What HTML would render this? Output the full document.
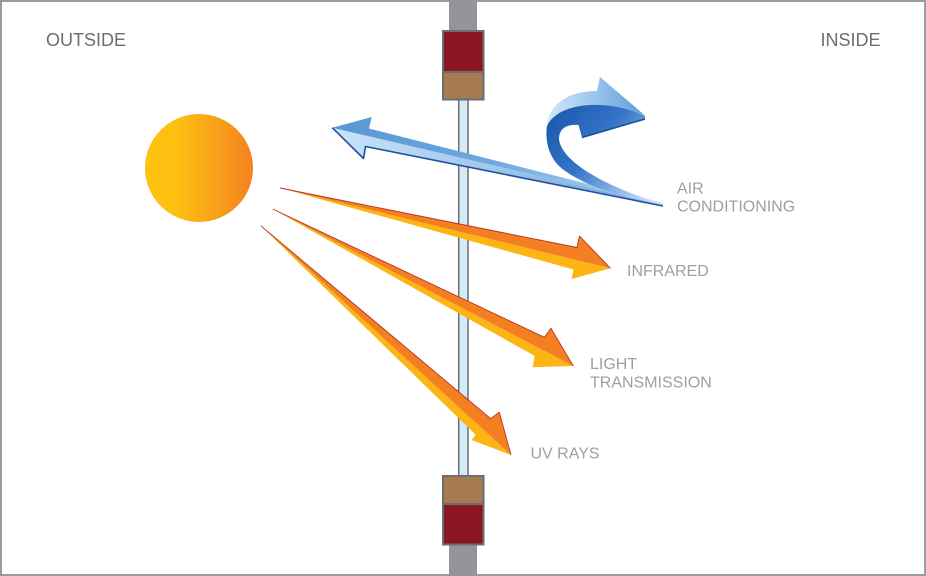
<!DOCTYPE html>
<html>
<head>
<meta charset="utf-8">
<style>
  html,body{margin:0;padding:0;background:#fff;}
  svg{display:block;}
  text{font-family:"Liberation Sans",Arial,sans-serif;}
</style>
</head>
<body>
<svg width="926" height="576" viewBox="0 0 926 576" xmlns="http://www.w3.org/2000/svg">
  <defs>
    <linearGradient id="sun" x1="0" y1="0" x2="1" y2="0">
      <stop offset="0" stop-color="#fec20f"/>
      <stop offset="0.3" stop-color="#fdbf12"/>
      <stop offset="1" stop-color="#f58220"/>
    </linearGradient>
    <linearGradient id="bUp" x1="332" y1="0" x2="663" y2="0" gradientUnits="userSpaceOnUse">
      <stop offset="0" stop-color="#5898d4"/>
      <stop offset="0.5" stop-color="#6fa9de"/>
      <stop offset="1" stop-color="#b9d9f3"/>
    </linearGradient>
    <linearGradient id="bLo" x1="332" y1="0" x2="663" y2="0" gradientUnits="userSpaceOnUse">
      <stop offset="0" stop-color="#c8e4f9"/>
      <stop offset="0.5" stop-color="#9fc6ec"/>
      <stop offset="1" stop-color="#6b9fdc"/>
    </linearGradient>
    <linearGradient id="cTop" x1="548" y1="100" x2="645" y2="100" gradientUnits="userSpaceOnUse">
      <stop offset="0" stop-color="#cfe6f9"/>
      <stop offset="0.5" stop-color="#98c4ec"/>
      <stop offset="1" stop-color="#5b9bd6"/>
    </linearGradient>
    <linearGradient id="cFront" x1="548" y1="110" x2="663" y2="204" gradientUnits="userSpaceOnUse">
      <stop offset="0" stop-color="#1a57ab"/>
      <stop offset="0.4" stop-color="#3574c6"/>
      <stop offset="0.7" stop-color="#8db6e6"/>
      <stop offset="1" stop-color="#e0effb"/>
    </linearGradient>
  </defs>

  <!-- frame -->
  <rect x="1" y="1" width="924" height="574" fill="#fff" stroke="#9b9b9b" stroke-width="2"/>

  <!-- wall bars -->
  <rect x="449" y="0" width="28" height="31" fill="#939598"/>
  <rect x="449" y="545" width="28" height="31" fill="#939598"/>

  <!-- glass -->
  <rect x="458.7" y="99" width="9.3" height="377" fill="#d3ebf9" stroke="#6d6e71" stroke-width="1.5"/>

  <!-- top frame box -->
  <rect x="443" y="31" width="40.5" height="41" fill="#8b1522" stroke="#6d6e71" stroke-width="2"/>
  <rect x="443" y="72" width="40.5" height="27.5" fill="#a67b51" stroke="#6d6e71" stroke-width="2"/>
  <!-- bottom frame box -->
  <rect x="443" y="476" width="40.5" height="28" fill="#a67b51" stroke="#6d6e71" stroke-width="2"/>
  <rect x="443" y="504" width="40.5" height="40.5" fill="#8b1522" stroke="#6d6e71" stroke-width="2"/>

  <!-- sun -->
  <circle cx="199" cy="168" r="54" fill="url(#sun)"/>

  <!-- orange arrow 1 (infrared) -->
  <polygon points="280,188 610.5,268.3 571.5,279 573.5,269.5" fill="#fdb515"/>
  <polygon points="280,188 577,247.5 579.5,236 610.5,268.3" fill="#f37f21"/>
  <polyline points="280,188 577,247.5 579.5,236 610.5,268.3" fill="none" stroke="#b3372a" stroke-width="0.9" stroke-linejoin="round"/>

  <!-- orange arrow 2 (light transmission) -->
  <polygon points="272.7,209 573.3,366 532.7,367.3 534.6,355.9" fill="#fdb515"/>
  <polygon points="272.7,209 544.4,337.3 551,328.3 573.3,366" fill="#f37f21"/>
  <polyline points="272.7,209 544.4,337.3 551,328.3 573.3,366" fill="none" stroke="#b3372a" stroke-width="0.9" stroke-linejoin="round"/>

  <!-- orange arrow 3 (UV) -->
  <polygon points="260.7,225.7 511,455 471.7,440 475.7,434.8" fill="#fdb515"/>
  <polygon points="260.7,225.7 490.6,418.6 499.3,412.3 511,455" fill="#f37f21"/>
  <polyline points="260.7,225.7 490.6,418.6 499.3,412.3 511,455" fill="none" stroke="#b3372a" stroke-width="0.9" stroke-linejoin="round"/>

  <!-- blue straight arrow (air conditioning out) -->
  <polygon points="332.3,127.7 663,205 365.5,146 363.5,158.5" fill="url(#bLo)"/>
  <polygon points="332.3,127.7 371.7,117 369,128.5 663,203 663,205" fill="url(#bUp)"/>
  <polyline points="663,206 365.5,146.5 363.5,158.5 332.3,127.7" fill="none" stroke="#1f4f9f" stroke-width="1.6" stroke-linejoin="round"/>

  <!-- blue curved arrow -->
  <path d="M547,126 C548,107 565,91 597,91 L600,77 L645,115.5 C630,108 610,104 590,105 C570,107 553,114 547,126 Z" fill="url(#cTop)"/>
  <path d="M547,126 C553,113 570,106 590,105 C612,104 632,109 645,116 L645,119.5 L582,137.5 L578.5,125 C566,124 559,129 559,139 C561,160 600,185 663,204 C625,199 580,185 559,166 C548,155 545,139 547,126 Z" fill="url(#cFront)"/>
  <polyline points="645,119 582,137.5" fill="none" stroke="#1a4d9c" stroke-width="1.5"/>

  <!-- labels -->
  <text x="46" y="46" font-size="18" fill="#6d6e71">OUTSIDE</text>
  <text x="820.5" y="46" font-size="18" fill="#6d6e71">INSIDE</text>
  <text x="677" y="193.3" font-size="16" fill="#9d9fa2">AIR</text>
  <text x="677" y="211.7" font-size="16" fill="#9d9fa2">CONDITIONING</text>
  <text x="627" y="276" font-size="16" fill="#9d9fa2">INFRARED</text>
  <text x="590" y="369" font-size="16" fill="#9d9fa2">LIGHT</text>
  <text x="590" y="387.3" font-size="16" fill="#9d9fa2">TRANSMISSION</text>
  <text x="530.5" y="458.3" font-size="16" fill="#9d9fa2">UV RAYS</text>
</svg>
</body>
</html>
